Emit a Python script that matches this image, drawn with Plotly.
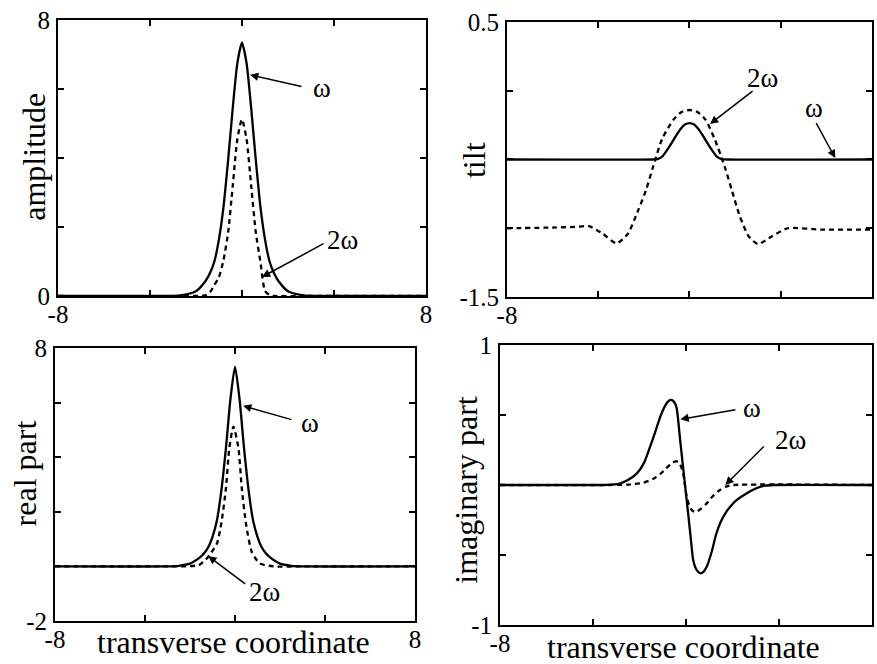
import plotly.graph_objects as go

# ---------------- data ----------------
# Panel 1: amplitude
amp_x_w = [-8, -4, -2.7, -2.0, -1.6, -1.4, -1.2, -1.0, -0.8, -0.6, -0.4, -0.2, 0.0,
           0.2, 0.4, 0.6, 0.8, 1.0, 1.2, 1.4, 1.6, 2.0, 2.7, 4, 8]
amp_w = [0, 0, 0.02, 0.14, 0.42, 0.65, 1.0, 1.65, 2.6, 3.95, 5.45, 6.75, 7.34,
         6.75, 5.45, 3.95, 2.6, 1.65, 1.0, 0.65, 0.42, 0.14, 0.02, 0, 0]
amp_x_2w = [-8, -2.5, -1.6, -1.4, -1.2, -1.0, -0.8, -0.6, -0.4, -0.2, 0.0,
            0.2, 0.4, 0.6, 0.8, 1.0, 1.2, 1.4, 2.5, 8]
amp_2w = [0, 0, 0.02, 0.1, 0.32, 0.55, 1.05, 1.85, 3.2, 4.55, 5.12,
          4.55, 3.2, 1.85, 1.0, 0.15, 0.03, 0, 0, 0]

# Panel 2: tilt
tilt_x_w = [-8, -1.6, -1.4, -1.2, -1.0, -0.8, -0.6, -0.4, -0.2, 0.0,
            0.2, 0.4, 0.6, 0.8, 1.0, 1.2, 1.4, 1.6, 8]
tilt_w = [-0.5, -0.5, -0.497, -0.48, -0.435, -0.385, -0.33, -0.28, -0.245, -0.235,
          -0.245, -0.28, -0.33, -0.385, -0.435, -0.48, -0.497, -0.5, -0.5]
tilt_x_2w = [-8, -6, -5, -4.4, -3.8, -3.2, -2.7, -2.25, -1.9, -1.6, -1.2, -0.7, -0.35, 0.0,
             0.35, 0.7, 1.1, 1.55, 1.85, 2.2, 2.6, 3.0, 3.6, 4.3, 5.8, 8]
tilt_2w = [-1.0, -0.995, -0.99, -0.985, -1.04, -1.11, -1.04, -0.87, -0.72, -0.555, -0.35, -0.21, -0.155, -0.14,
           -0.155, -0.21, -0.35, -0.555, -0.72, -0.91, -1.06, -1.115, -1.06, -1.0, -1.01, -1.01]

# Panel 3: real part
re_x_w = [-8, -3, -2.5, -2.0, -1.6, -1.4, -1.2, -1.0, -0.8, -0.6, -0.4, -0.2, 0.0,
          0.2, 0.4, 0.6, 0.8, 1.0, 1.2, 1.4, 1.6, 2.0, 2.5, 3, 8]
re_w = [0, 0, 0.02, 0.1, 0.3, 0.45, 0.68, 1.08, 1.7, 2.82, 4.35, 6.15, 7.32,
        6.15, 4.35, 2.82, 1.7, 1.08, 0.68, 0.45, 0.3, 0.1, 0.02, 0, 0]
re_x_2w = [-8, -3, -2.2, -1.6, -1.3, -1.1, -0.8, -0.6, -0.4, -0.25, -0.07,
           0.15, 0.3, 0.5, 0.75, 1.1, 1.7, 3, 8]
re_2w = [0, 0, 0, 0.05, 0.25, 0.45, 0.84, 1.62, 2.88, 4.35, 5.12,
         4.35, 2.88, 1.5, 0.52, 0.11, 0, 0, 0]

# Panel 4: imaginary part
im_x_w = [-8, -3.6, -3.2, -2.85, -2.5, -2.1, -1.8, -1.55, -1.3, -1.1, -0.9, -0.75, -0.6, -0.48,
          -0.4, -0.23, -0.09, 0.0, 0.1, 0.2, 0.31, 0.45, 0.6, 0.75, 0.9, 1.1, 1.3, 1.5, 1.7, 1.9,
          2.2, 2.6, 3.0, 3.4, 3.8, 8]
im_w = [0, 0, 0.003, 0.01, 0.035, 0.085, 0.16, 0.27, 0.39, 0.49, 0.565, 0.6, 0.607, 0.585,
        0.548, 0.288, 0.075, -0.063, -0.215, -0.37, -0.536, -0.605, -0.63, -0.62, -0.58, -0.48,
        -0.35, -0.26, -0.2, -0.155, -0.105, -0.06, -0.025, -0.005, 0, 0]
im_x_2w = [-8, -3.3, -2.5, -1.84, -1.4, -1.12, -0.85, -0.62, -0.45, -0.33, -0.22, -0.12, 0.03,
           0.15, 0.25, 0.36, 0.46, 0.65, 0.89, 1.15, 1.46, 1.75, 2.03, 8]
im_2w = [0, 0, 0.003, 0.016, 0.045, 0.076, 0.12, 0.155, 0.168, 0.167, 0.135, 0.083, -0.083,
         -0.15, -0.179, -0.19, -0.19, -0.168, -0.131, -0.08, -0.036, -0.01, 0, 0]

x_ticks = [-8, -4, 0, 4, 8]
x_ticktext = ["-8", "", "", "", "8"]
panels = [
    dict(ytitle="amplitude", yrange=[0, 8], yticks=[0, 2, 4, 6, 8], ytext=["0", "", "", "", "8"],
         xdom=[0.0661, 0.4857], ydom=[0.5542, 0.9699], title_pos=(0.0385, 0.7636)),
    dict(ytitle="tilt", yrange=[-1.5, 0.5], yticks=[-1.5, -1, -0.5, 0, 0.5], ytext=["-1.5", "", "", "", "0.5"],
         xdom=[0.5781, 0.9943], ydom=[0.5527, 0.9669], title_pos=(0.5405, 0.759)),
    dict(ytitle="real part", yrange=[-2, 8], yticks=[-2, 0, 2, 4, 6, 8], ytext=["-2", "", "", "", "", "8"],
         xdom=[0.0627, 0.4732], ydom=[0.0648, 0.4759], title_pos=(0.0290, 0.2877)),
    dict(ytitle="imaginary part", yrange=[-1, 1], yticks=[-1, -0.5, 0, 0.5, 1], ytext=["-1", "", "", "", "1"],
         xdom=[0.5701, 0.9943], ydom=[0.0587, 0.4804], title_pos=(0.5310, 0.262)),
]
series = [
    (amp_x_w, amp_w, amp_x_2w, amp_2w),
    (tilt_x_w, tilt_w, tilt_x_2w, tilt_2w),
    (re_x_w, re_w, re_x_2w, re_2w),
    (im_x_w, im_w, im_x_2w, im_2w),
]

FONT = "Liberation Serif"
fig = go.Figure()

for i, (xs_w, ys_w, xs_2w, ys_2w) in enumerate(series):
    n = "" if i == 0 else str(i + 1)
    fig.add_trace(go.Scatter(x=xs_2w, y=ys_2w, mode="lines", xaxis="x" + n, yaxis="y" + n,
                             line=dict(color="black", width=2.3, dash="5px,4px", shape="spline", smoothing=0.6),
                             showlegend=False, hoverinfo="skip"))
    fig.add_trace(go.Scatter(x=xs_w, y=ys_w, mode="lines", xaxis="x" + n, yaxis="y" + n,
                             line=dict(color="black", width=2.3, shape="spline", smoothing=0.6),
                             showlegend=False, hoverinfo="skip"))

layout = dict(width=877, height=664, margin=dict(l=0, r=0, t=0, b=0, autoexpand=False),
              paper_bgcolor="white", plot_bgcolor="white",
              font=dict(family=FONT, color="black", size=24), showlegend=False)
annotations = []
for i, p in enumerate(panels):
    n = "" if i == 0 else str(i + 1)
    layout["xaxis" + n] = dict(domain=p["xdom"], range=[-8, 8], anchor="y" + n, automargin=False,
                               tickmode="array", tickvals=x_ticks, ticktext=x_ticktext,
                               ticks="inside", ticklen=6, tickwidth=1.5, tickcolor="black",
                               showline=True, linecolor="black", linewidth=2, mirror="ticks",
                               showgrid=False, zeroline=False, tickfont=dict(size=25, family=FONT),
                               ticklabelstandoff=-5)
    layout["yaxis" + n] = dict(domain=p["ydom"], range=p["yrange"], anchor="x" + n, automargin=False,
                               tickmode="array", tickvals=p["yticks"], ticktext=p["ytext"],
                               ticks="inside", ticklen=6, tickwidth=1.5, tickcolor="black",
                               showline=True, linecolor="black", linewidth=2, mirror="ticks",
                               showgrid=False, zeroline=False, tickfont=dict(size=25, family=FONT),
                               ticklabelstandoff=1)
    annotations.append(dict(text=p["ytitle"], xref="paper", yref="paper", x=p["title_pos"][0], y=p["title_pos"][1],
                            textangle=-90, showarrow=False, xanchor="center", yanchor="middle",
                            font=dict(size=32, family=FONT)))

for xpos, ypos in [(0.2657, 0.0331), (0.7788, 0.0256)]:
    annotations.append(dict(text="transverse coordinate", xref="paper", yref="paper", x=xpos, y=ypos,
                            showarrow=False, xanchor="center", yanchor="middle",
                            font=dict(size=32, family=FONT)))

# curve labels: (panel, text, label_x, label_y, tail_x, tail_y, head_x, head_y)
labels = [
    (0, "ω", 3.48, 6.03, 2.65, 6.06, 0.35, 6.41),
    (0, "2ω", 4.39, 1.62, 3.61, 1.54, 0.87, 0.55),
    (1, "2ω", 3.22, 0.093, 2.83, 0.005, 0.9, -0.242),
    (1, "ω", 5.46, -0.125, 5.52, -0.225, 6.39, -0.49),
    (2, "ω", 3.33, 5.25, 2.58, 5.36, 0.36, 5.88),
    (2, "2ω", 1.33, -0.93, 0.52, -0.68, -1.19, 0.38),
    (3, "ω", 2.84, 0.548, 2.19, 0.54, -0.24, 0.469),
    (3, "2ω", 4.49, 0.321, 3.41, 0.286, 1.69, 0.0),
]
for (pi, txt, lx, ly, tx, ty, hx, hy) in labels:
    n = "" if pi == 0 else str(pi + 1)
    annotations.append(dict(text=txt, xref="x" + n, yref="y" + n, x=lx, y=ly, showarrow=False,
                            xanchor="center", yanchor="middle", font=dict(size=27, family=FONT)))
    annotations.append(dict(text="", xref="x" + n, yref="y" + n, x=hx, y=hy,
                            axref="x" + n, ayref="y" + n, ax=tx, ay=ty, showarrow=True,
                            arrowhead=2, arrowsize=1.1, arrowwidth=1.5, arrowcolor="black"))

layout["annotations"] = annotations
fig.update_layout(**layout)
fig.write_html("out.html")
